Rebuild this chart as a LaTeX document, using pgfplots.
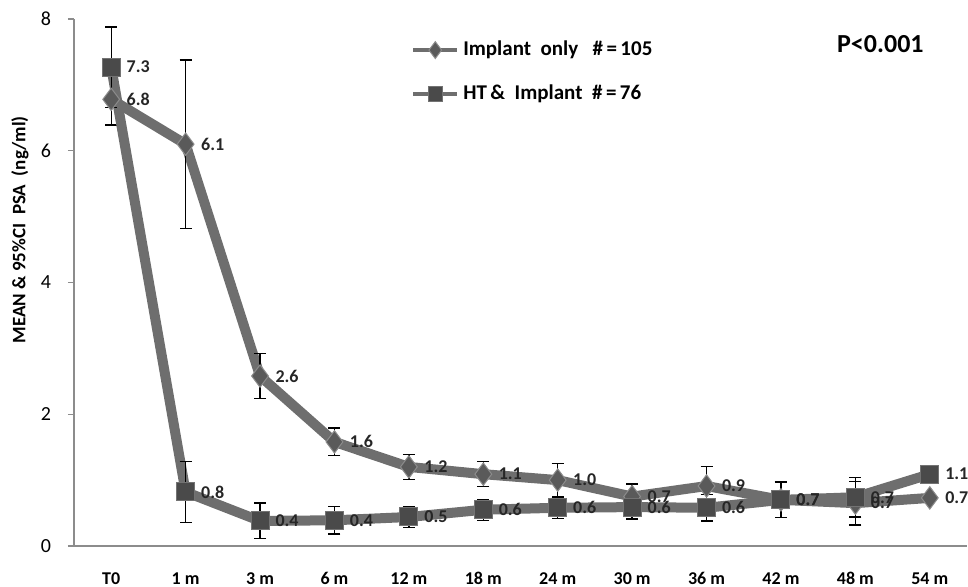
\documentclass[border=0pt]{standalone}
\usepackage{pgfplots}
\pgfplotsset{compat=1.18}
\usepackage{pgfplotstable}
\usepackage{fontspec}
\setmainfont{Carlito}
\definecolor{lineG}{HTML}{6E6E6E}
\definecolor{markG}{HTML}{5A5A5A}
\definecolor{markD}{HTML}{4A4A4A}

\pgfplotstableread{
x y e l
0 6.78 0.39 6.8
1 6.10 1.28 6.1
2 2.58 0.34 2.6
3 1.58 0.21 1.6
4 1.20 0.19 1.2
5 1.09 0.19 1.1
6 1.00 0.25 1.0
7 0.75 0.19 0.7
8 0.91 0.30 0.9
9 0.70 0.27 0.7
10 0.65 0.33 0.7
11 0.73 0.00 0.7
}\implant

\pgfplotstableread{
x y e l
0 7.27 0.61 7.3
1 0.82 0.46 0.8
2 0.38 0.27 0.4
3 0.39 0.21 0.4
4 0.44 0.16 0.5
5 0.55 0.16 0.6
6 0.58 0.16 0.6
7 0.59 0.18 0.6
8 0.58 0.20 0.6
9 0.70 0.27 0.7
10 0.74 0.30 0.7
11 1.09 0.00 1.1
}\htimp

\begin{document}
\begin{tikzpicture}
\begin{axis}[
  scale only axis,
  width=446.5pt, height=263.5pt,
  xmin=-0.5, xmax=11.5, ymin=0, ymax=8,
  clip=false,
  axis x line*=bottom, axis y line*=left,
  axis line style={draw=black!45, line width=0.75pt},
  xtick={0,...,11},
  xticklabels={T0,1 m,3 m,6 m,12 m,18 m,24 m,30 m,36 m,42 m,48 m,54 m},
  major x tick style={draw=none},
  extra x ticks={-0.5,0.5,...,11.5},
  extra x tick labels={},
  extra x tick style={major tick length=4pt, tick align=outside, tick style={draw=black!45, line width=0.6pt}},
  xticklabel style={font=\bfseries\fontsize{9}{10}\selectfont, text height=1.6ex, text depth=0.2ex, yshift=-5pt},
  ytick={0,2,4,6,8},
  ytick style={draw=black!45, line width=0.6pt},
  tick align=outside, major tick length=3pt,
  yticklabel style={font=\fontsize{10}{12}\selectfont, xshift=-5pt},
  /pgf/number format/assume math mode=true,
  every axis y label/.style={at={(rel axis cs:0,0.6)}, xshift=-27pt, rotate=90, anchor=center},
  ylabel={\bfseries\fontsize{9.5}{11}\selectfont MEAN \& 95\%CI\hspace{0.45em}PSA\hspace{0.45em}(ng/ml)},
  legend style={at={(rel axis cs:0.375,0.97)}, anchor=north west, draw=none, fill=none,
    font=\bfseries\fontsize{10.5}{12}\selectfont, row sep=9pt, inner sep=1pt},
  legend cell align=left,
  nodes near coords,
  point meta=explicit symbolic,
  nodes near coords style={anchor=west, xshift=6.5pt, inner sep=1pt, font=\bfseries\fontsize{9}{11}\selectfont, text=black!85},
  error bars/y dir=both, error bars/y explicit,
  error bars/error bar style={black, line width=0.7pt},
  error bars/error mark options={rotate=90, mark size=3pt, black, line width=0.7pt},
]
\addplot[lineG, line width=5pt, mark=diamond*, mark size=5.6pt,
  mark options={solid, line width=0.5pt, fill=markG, draw=black!45},
  legend image code/.code={\draw[line width=2pt,mark repeat=2,mark phase=2,mark size=4.2pt] plot coordinates {(0pt,0pt) (11pt,0pt) (22pt,0pt)};}]
  table[x=x, y=y, y error=e, meta=l] {\implant};
\addlegendentry{Implant\ \ only\ \ \ \#\,=\,105}
\addplot[lineG, line width=5pt, mark=square*, mark size=4.5pt,
  mark options={solid, line width=0.5pt, fill=markD, draw=black!55},
  legend image code/.code={\draw[line width=2pt,mark repeat=2,mark phase=2,mark size=3.6pt] plot coordinates {(0pt,0pt) (11pt,0pt) (22pt,0pt)};}]
  table[x=x, y=y, y error=e, meta=l] {\htimp};
\addlegendentry{HT\,\&\ \ Implant\ \ \#\,=\,76}
\node[font=\bfseries\fontsize{13}{15}\selectfont, anchor=center] at (rel axis cs:0.903,0.953) {P<0.001};
\end{axis}
\pgfresetboundingbox
\path ([shift={(-37pt,-20.5pt)}]current axis.south west) rectangle ([shift={(0.5pt,9.5pt)}]current axis.north east);
\end{tikzpicture}
\end{document}
